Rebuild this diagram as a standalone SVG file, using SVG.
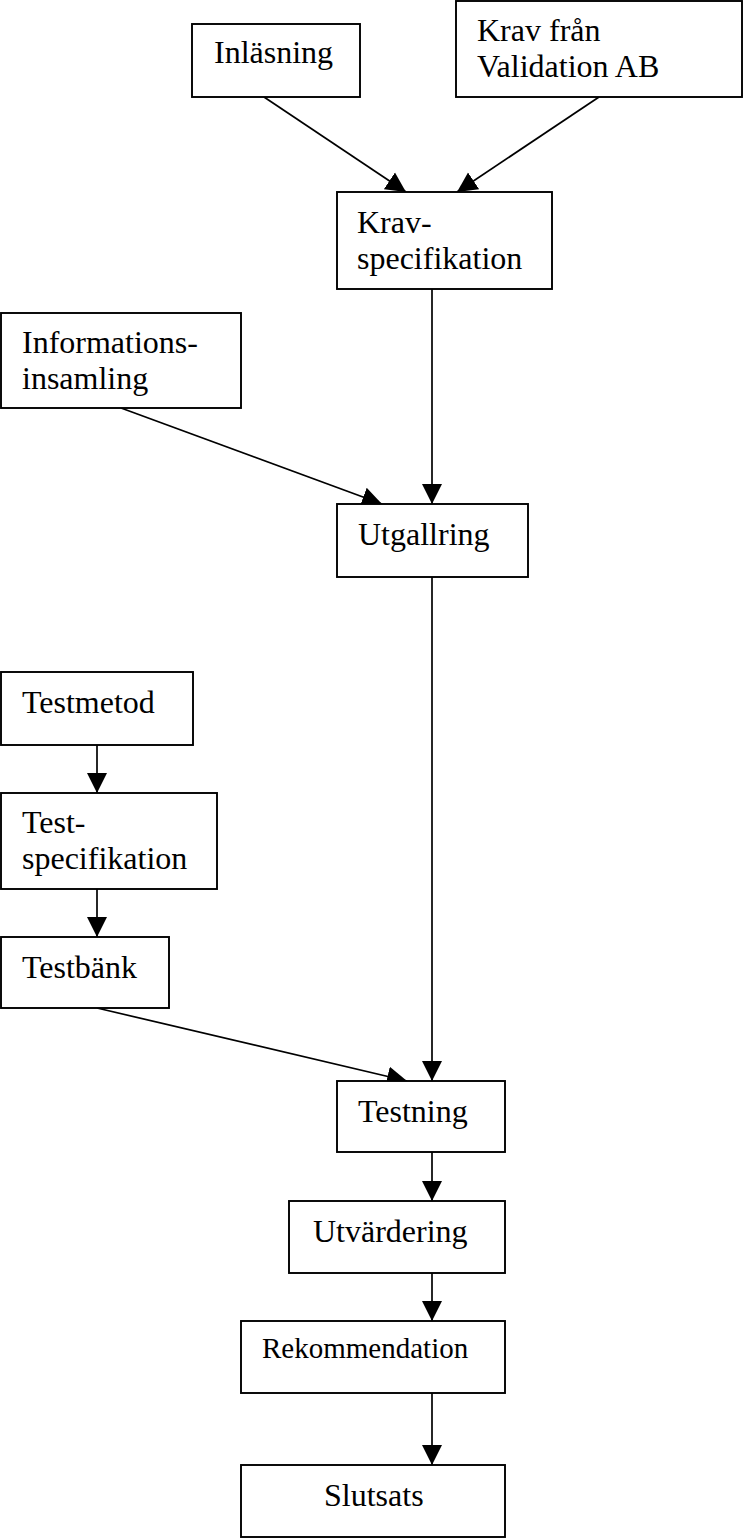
<svg xmlns="http://www.w3.org/2000/svg" width="747" height="1538" viewBox="0 0 747 1538">
<defs>
<marker id="ah" markerUnits="userSpaceOnUse" markerWidth="21" markerHeight="21" refX="20" refY="10" orient="auto" viewBox="0 0 21 20">
<path d="M0,0 L20,10 L0,20 z" fill="#000"/>
</marker>
<style>
.box{fill:#fff;stroke:#000;stroke-width:1.9}
.t{font-family:"Liberation Serif","Times New Roman",serif;font-size:32px;fill:#000}
.s{font-size:29px}
.c line{stroke:#000;stroke-width:1.7;marker-end:url(#ah)}
</style>
</defs>
<rect width="747" height="1538" fill="#fff"/>
<g id="connectors" class="c">
<line x1="264" y1="97" x2="406" y2="192"/>
<line x1="599" y1="97" x2="457" y2="192"/>
<line x1="432" y1="289" x2="432" y2="504"/>
<line x1="121" y1="408" x2="382" y2="504"/>
<line x1="432" y1="577" x2="432" y2="1081"/>
<line x1="97" y1="745" x2="97" y2="793"/>
<line x1="97" y1="889" x2="97" y2="937"/>
<line x1="97" y1="1008" x2="407" y2="1081"/>
<line x1="432" y1="1152" x2="432" y2="1201"/>
<line x1="432" y1="1273" x2="432" y2="1321"/>
<line x1="432" y1="1393" x2="432" y2="1465"/>
</g>
<g id="inlasning"><rect class="box" x="192" y="24" width="168" height="73"/><text class="t" x="214" y="63">Inläsning</text></g>
<g id="krav-fran"><rect class="box" x="456" y="1" width="286" height="96"/><text class="t" x="477" y="41">Krav från</text><text class="t" x="477" y="77">Validation AB</text></g>
<g id="kravspec"><rect class="box" x="337" y="192" width="215" height="97"/><text class="t" x="357" y="233">Krav-</text><text class="t" x="357" y="269">specifikation</text></g>
<g id="informationsinsamling"><rect class="box" x="1" y="313" width="240" height="95"/><text class="t" x="22" y="353">Informations-</text><text class="t" x="22" y="389">insamling</text></g>
<g id="utgallring"><rect class="box" x="337" y="504" width="191" height="73"/><text class="t" x="358" y="545">Utgallring</text></g>
<g id="testmetod"><rect class="box" x="1" y="672" width="192" height="73"/><text class="t" x="22" y="713">Testmetod</text></g>
<g id="testspec"><rect class="box" x="1" y="793" width="216" height="96"/><text class="t" x="22" y="833">Test-</text><text class="t" x="22" y="869">specifikation</text></g>
<g id="testbank"><rect class="box" x="1" y="937" width="168" height="71"/><text class="t" x="22" y="978">Testbänk</text></g>
<g id="testning"><rect class="box" x="337" y="1081" width="168" height="71"/><text class="t" x="358" y="1122">Testning</text></g>
<g id="utvardering"><rect class="box" x="289" y="1201" width="216" height="72"/><text class="t" x="313" y="1242">Utvärdering</text></g>
<g id="rekommendation"><rect class="box" x="241" y="1321" width="264" height="72"/><text class="t s" x="262" y="1358">Rekommendation</text></g>
<g id="slutsats"><rect class="box" x="241" y="1465" width="264" height="72"/><text class="t" x="324" y="1506">Slutsats</text></g>
</svg>
